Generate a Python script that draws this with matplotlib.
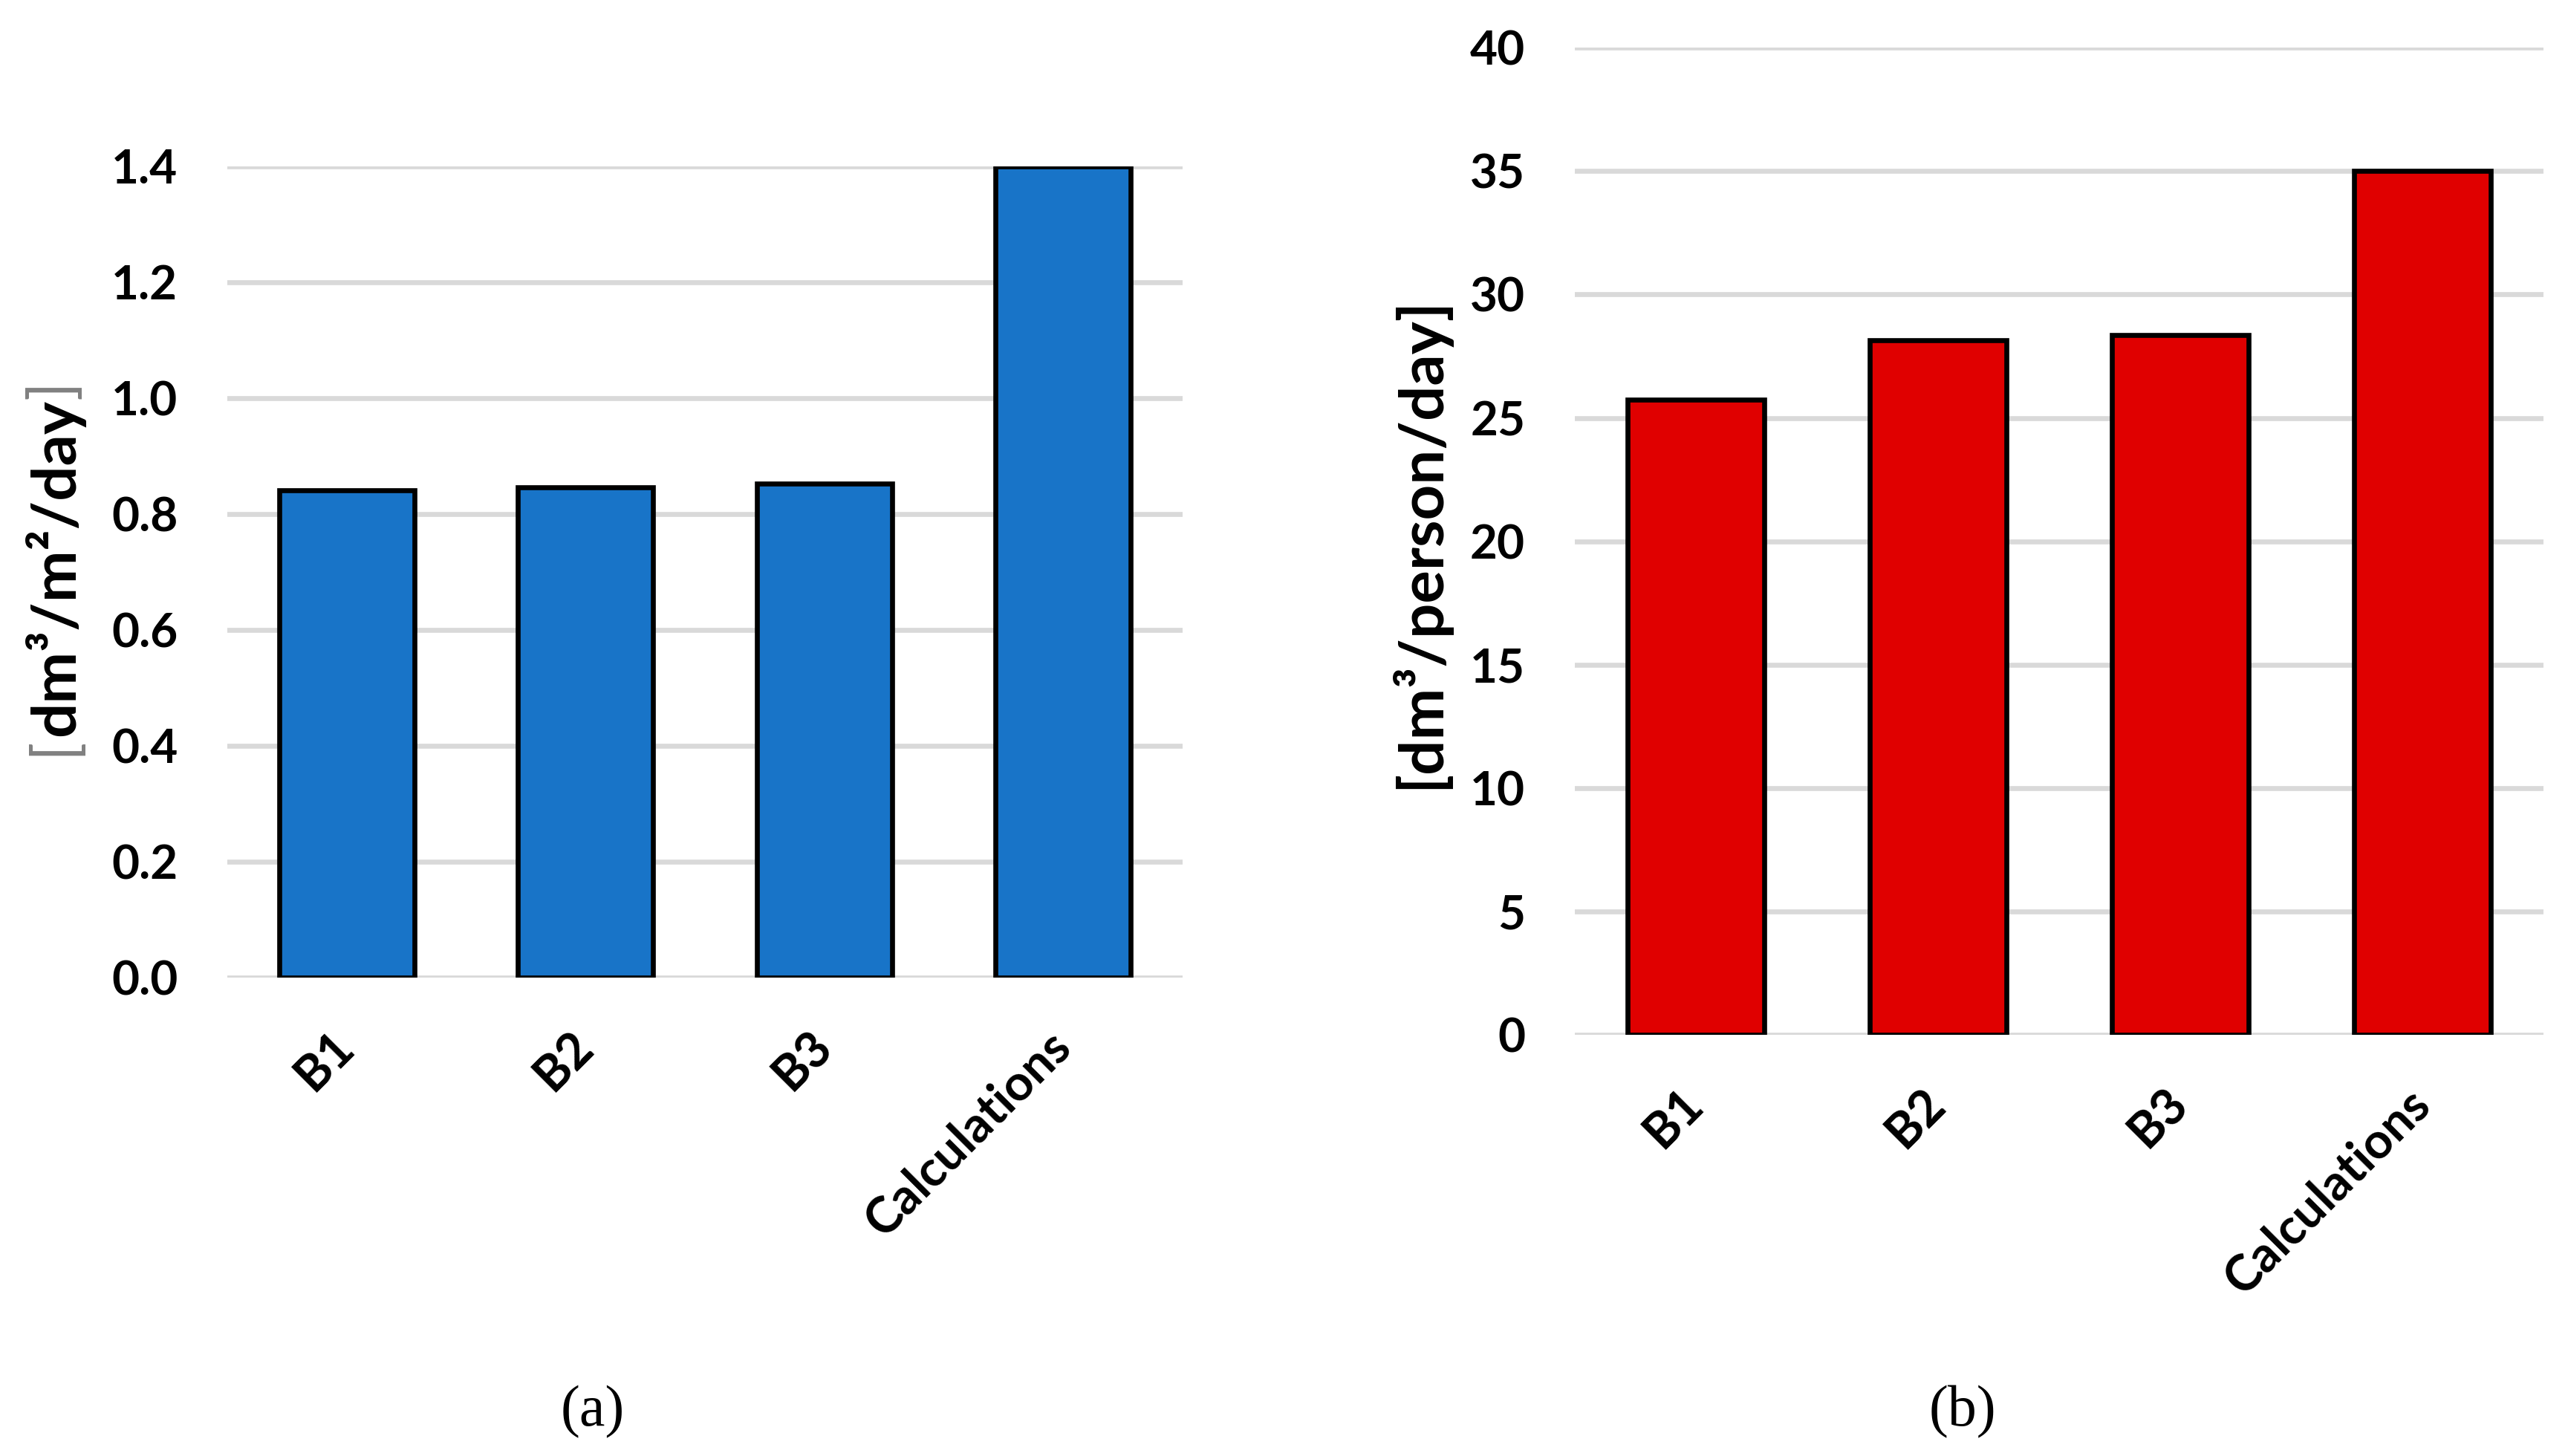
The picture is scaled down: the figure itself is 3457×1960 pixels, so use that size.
import matplotlib
matplotlib.use("Agg")
import matplotlib.pyplot as plt
from matplotlib import font_manager

categories = ["B1", "B2", "B3", "Calculations"]
values_a = [0.841, 0.846, 0.852, 1.40]
values_b = [25.75, 28.15, 28.35, 35.0]
yticks_a = [0.0, 0.2, 0.4, 0.6, 0.8, 1.0, 1.2, 1.4]
yticks_b = [0, 5, 10, 15, 20, 25, 30, 35, 40]
ylabel_a_inner = "dm³/m²/day"
ylabel_b = "[dm³/person/day]"
panel_labels = ["(a)", "(b)"]

names = {f.name for f in font_manager.fontManager.ttflist}
tick_font = "Lato" if "Lato" in names else "DejaVu Sans"
serif = "Liberation Serif" if "Liberation Serif" in names else "DejaVu Serif"

fig = plt.figure(figsize=(3457 / 200, 1960 / 200), dpi=200)

def make(ax, vals, ticks, color, fmt):
    x = list(range(len(categories)))
    ax.bar(x, vals, width=0.565, color=color, edgecolor="black", linewidth=2.4, zorder=3)
    ax.set_xlim(-0.5, len(categories) - 0.5)
    ax.set_ylim(ticks[0], ticks[-1])
    ax.set_yticks(ticks)
    ax.set_yticklabels([fmt.format(t) for t in ticks], fontfamily=tick_font,
                       fontweight="bold", fontsize=23)
    ax.set_xticks(x)
    ax.set_xticklabels(categories, rotation=45, ha="right", va="center",
                       rotation_mode="anchor", fontfamily=tick_font,
                       fontweight="bold", fontsize=24)
    ax.tick_params(axis="both", length=0)
    ax.tick_params(axis="y", pad=24)
    ax.tick_params(axis="x", pad=30)
    for s in ax.spines.values():
        s.set_visible(False)
    ax.set_axisbelow(True)
    ax.yaxis.grid(True, color="#d9d9d9", linewidth=2.4, zorder=0)

ax1 = fig.add_axes([0.0885, 0.3288, 0.4605 - 0.0885, 0.8859 - 0.3288])
make(ax1, values_a, yticks_a, "#1874c8", "{:.1f}")
ax2 = fig.add_axes([0.6132, 0.2893, 0.9905 - 0.6132, 0.9672 - 0.2893])
make(ax2, values_b, yticks_b, "#e00000", "{:d}")

# y-axis titles
lab_size = 30
fa_x, fa_y = 33 / 1560, 1 - 345 / 885
ta = fig.text(fa_x, fa_y, ylabel_a_inner, rotation=90, ha="center", va="center",
              fontfamily=tick_font, fontweight="bold", fontsize=lab_size)
fig.text(862 / 1560, 1 - 330 / 885, ylabel_b, rotation=90, ha="center", va="center",
         fontfamily=tick_font, fontweight="bold", fontsize=lab_size)

fig.canvas.draw()
bb = ta.get_window_extent()
inv = fig.transFigure.inverted()
_, y0 = inv.transform((bb.x0, bb.y0))
_, y1 = inv.transform((bb.x1, bb.y1))
fig.text(fa_x, y0, "[", rotation=90, ha="center", va="top", color="#808080",
         fontfamily=tick_font, fontsize=lab_size)
fig.text(fa_x, y1, "]", rotation=90, ha="center", va="bottom", color="#808080",
         fontfamily=tick_font, fontsize=lab_size)

fig.text(360 / 1560, 1 - 858 / 885, panel_labels[0], fontfamily=serif, fontsize=28,
         ha="center", va="center")
fig.text(1192 / 1560, 1 - 858 / 885, panel_labels[1], fontfamily=serif, fontsize=28,
         ha="center", va="center")

fig.savefig("out.png", dpi=200, facecolor="white")
